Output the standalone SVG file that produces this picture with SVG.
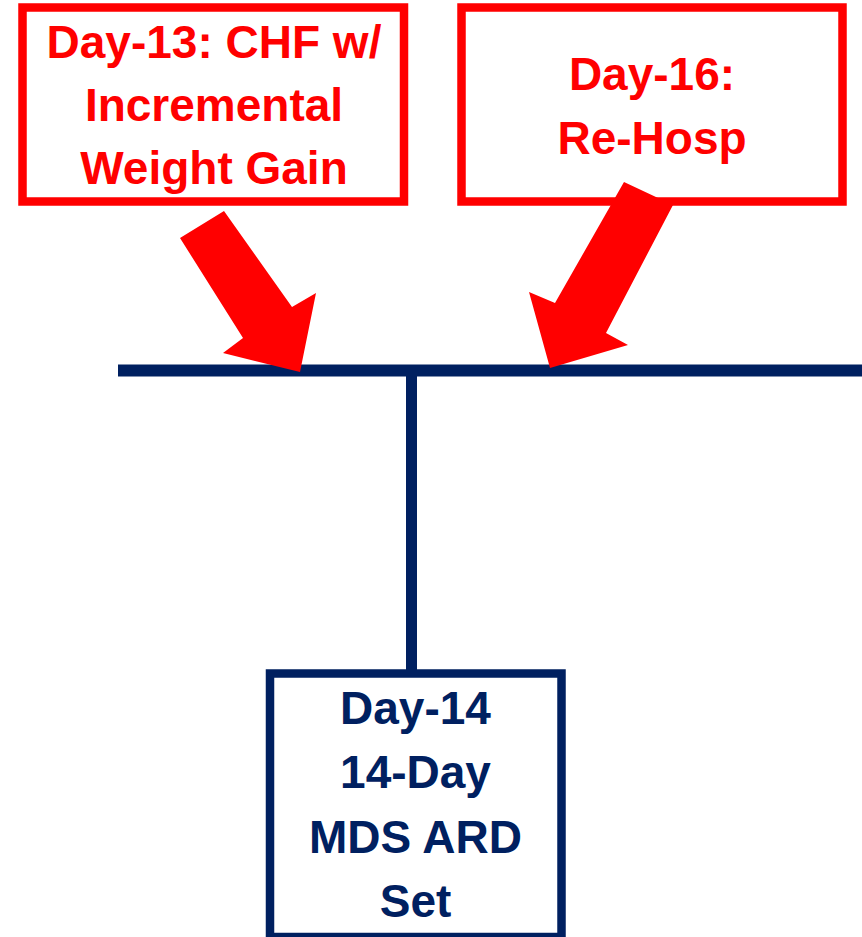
<svg xmlns="http://www.w3.org/2000/svg" width="862" height="937" viewBox="0 0 862 937">
<style>
.bg{fill:#ffffff}
.rbox{fill:#ffffff;stroke:#ff0000;stroke-width:8.5}
.nbox{fill:#ffffff;stroke:#002060;stroke-width:8.5}
.rt{font-family:"Liberation Sans",Arial,sans-serif;font-weight:bold;font-size:46px;fill:#ff0000;text-anchor:middle}
.nt{font-family:"Liberation Sans",Arial,sans-serif;font-weight:bold;font-size:46px;fill:#002060;text-anchor:middle}
.line{stroke:#002060;fill:none}
.arrow{fill:#ff0000}
</style>
<rect class="bg" x="0" y="0" width="862" height="937"/>
<g id="box-day13">
<rect class="rbox" x="22.5" y="7.5" width="381.5" height="194"/>
<text class="rt" x="214" y="58">Day-13: CHF w/</text>
<text class="rt" x="214" y="121">Incremental</text>
<text class="rt" x="214" y="184">Weight Gain</text>
</g>
<g id="box-day16">
<rect class="rbox" x="461.5" y="7.5" width="381" height="194"/>
<text class="rt" x="652" y="90">Day-16:</text>
<text class="rt" x="652" y="154">Re-Hosp</text>
</g>
<g id="connectors">
<line class="line" x1="118" y1="370.5" x2="862" y2="370.5" stroke-width="12"/>
<line class="line" x1="411.5" y1="370" x2="411.5" y2="672" stroke-width="11"/>
<polygon class="arrow" points="180,238 224,211 292,307 316,293 300,372 223,353 243,338"/>
<polygon class="arrow" points="624,182 673,205 606,333 628,345 550,368 529,292 555,303"/>
</g>
<g id="box-day14">
<rect class="nbox" x="270" y="673.5" width="291.5" height="263.5"/>
<text class="nt" x="415.5" y="724">Day-14</text>
<text class="nt" x="415.5" y="788">14-Day</text>
<text class="nt" x="415.5" y="852.5">MDS ARD</text>
<text class="nt" x="415.5" y="917">Set</text>
</g>
</svg>
